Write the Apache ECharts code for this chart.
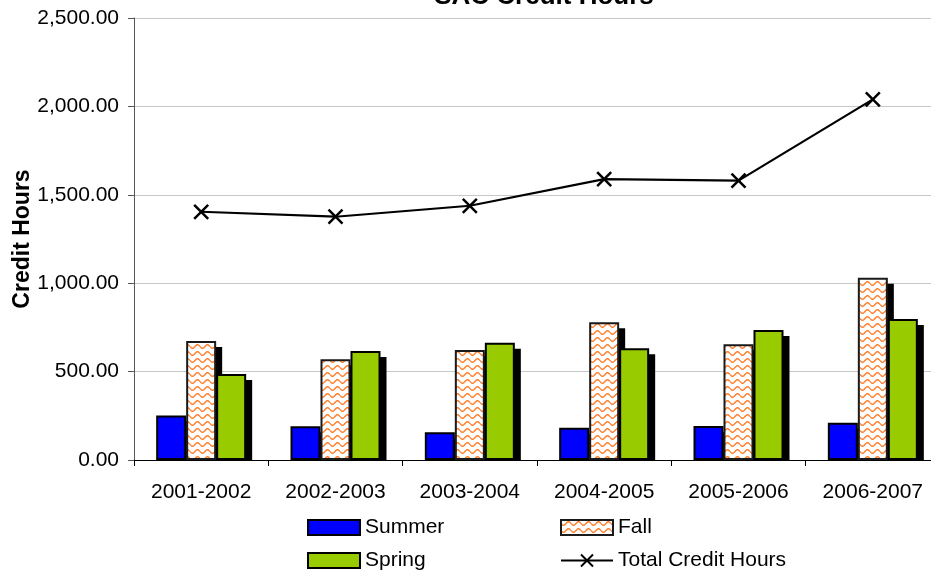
<!DOCTYPE html>
<html>
<head>
<meta charset="utf-8">
<script src="https://cdn.jsdelivr.net/npm/echarts@6/dist/echarts.min.js"></script>
<style>
html,body{margin:0;padding:0;background:#fff;}
#chart{width:931px;height:574px;}
</style>
</head>
<body>
<div id="chart"></div>
<script>
const categories = ['2001-2002','2002-2003','2003-2004','2004-2005','2005-2006','2006-2007'];
const summer = [251, 191, 157, 183, 192, 211];
const fall = [673, 570, 622, 779, 654, 1031];
const spring = [486, 617, 663, 632, 735, 797];
const total = [1404, 1376, 1438, 1589, 1580, 2040];
const yTicks = [0, 500, 1000, 1500, 2000, 2500];

const FONT = "'Liberation Sans', Arial, sans-serif";

// zigzag pattern for Fall
function makePattern(){
  const c = document.createElement('canvas');
  c.width = 10; c.height = 7;
  const ctx = c.getContext('2d');
  ctx.fillStyle = '#ffffff';
  ctx.fillRect(0,0,10,7);
  ctx.strokeStyle = '#ff8030';
  ctx.lineWidth = 1.5;
  ctx.beginPath();
  for (let x = 0; x <= 10; x += 0.5){
    const y = 3.5 + 1.8*Math.sin(x/10*2*Math.PI);
    if (x === 0) ctx.moveTo(x,y); else ctx.lineTo(x,y);
  }
  ctx.stroke();
  return c;
}
const pattern = {image: makePattern(), repeat: 'repeat'};

function fmt(v){
  const s = v.toFixed(2);
  const parts = s.split('.');
  parts[0] = parts[0].replace(/\B(?=(\d{3})+(?!\d))/g, ',');
  return parts.join('.');
}

const GAP = 0.33;
const shadowData = [];
[summer, fall, spring].forEach((arr, k) => arr.forEach((v, i) => shadowData.push([i, k, v])));

const chart = echarts.init(document.getElementById('chart'), null, {renderer:'canvas'});
chart.setOption({
  animation: false,
  backgroundColor: '#fff',
  textStyle: {fontFamily: FONT},
  graphic: [{
    type: 'text', x: 544, y: 10,
    style: {text: 'SAC Credit Hours', fontSize: 26, fontWeight: 'bold', fontFamily: FONT,
            fill: '#000', align: 'center', verticalAlign: 'bottom'}
  }],
  grid: {left: 134, top: 18, width: 806, height: 442, containLabel: false, outerBoundsMode: 'none'},
  legend: [
    {data: ['Summer','Spring'], orient: 'vertical', left: 307, top: 517, padding: 0,
     itemWidth: 52, itemHeight: 15, itemGap: 12, icon: 'rect',
     textStyle: {fontSize: 21, color: '#000', fontFamily: FONT, lineHeight: 21}},
    {data: [{name: 'Fall', icon: 'rect'}, {name: 'Total Credit Hours'}], orient: 'vertical', left: 560, top: 517, padding: 0,
     itemWidth: 52, itemHeight: 15, itemGap: 12,
     textStyle: {fontSize: 21, color: '#000', fontFamily: FONT, lineHeight: 21}}
  ],
  xAxis: {
    type: 'category', data: categories,
    axisLine: {lineStyle: {color: '#000', width: 1}},
    axisTick: {show: true, length: 6, lineStyle: {color: '#000'}},
    axisLabel: {fontSize: 21, color: '#000', margin: 22, fontFamily: FONT}
  },
  yAxis: {
    type: 'value', min: 0, max: 2500, interval: 500,
    name: 'Credit Hours', nameLocation: 'middle', nameRotate: 90, nameGap: 100,
    nameMoveOverlap: false,
    nameTextStyle: {fontSize: 23, fontWeight: 'bold', color: '#000', fontFamily: FONT},
    axisLine: {show: true, lineStyle: {color: '#555', width: 1}},
    axisTick: {show: true, length: 6, lineStyle: {color: '#555'}},
    axisLabel: {fontSize: 21, color: '#000', margin: 15, fontFamily: FONT,
      formatter: v => yTicks.indexOf(v) >= 0 ? fmt(v) : ''},
    splitLine: {lineStyle: {color: '#c8c8c8', width: 1}}
  },
  series: [
    {
      type: 'custom', name: 'shadow', silent: true, z: 1,
      encode: {x: 0, y: 2},
      renderItem: function(params, api){
        const ci = api.value(0), k = api.value(1), v = api.value(2);
        const top = api.coord([ci, v]);
        const base = api.coord([ci, 0]);
        const band = api.size([1, 0])[0];
        const bw = band * (1 - GAP) / 3;
        const x = top[0] - 1.5 * bw + k * bw + 6;
        return {type: 'rect', shape: {x: x, y: top[1] + 6, width: bw, height: base[1] - top[1] - 6},
                style: {fill: '#000'}};
      },
      data: shadowData
    },
    {name: 'Summer', type: 'bar', data: summer, z: 2, barGap: '0%', barCategoryGap: (GAP*100)+'%',
     itemStyle: {color: '#0000ff', borderColor: '#000', borderWidth: 2}},
    {name: 'Fall', type: 'bar', data: fall, z: 2,
     itemStyle: {color: pattern, borderColor: '#1a1a1a', borderWidth: 2}},
    {name: 'Spring', type: 'bar', data: spring, z: 2,
     itemStyle: {color: '#99cc00', borderColor: '#000', borderWidth: 2}},
    {name: 'Total Credit Hours', type: 'line', data: total, z: 5,
     symbol: 'path://M0,0L10,10M10,0L0,10', symbolSize: 14, showSymbol: true,
     lineStyle: {color: '#000', width: 2.2},
     itemStyle: {color: '#000', borderColor: '#000', borderWidth: 2.5}}
  ]
});
</script>
</body>
</html>
